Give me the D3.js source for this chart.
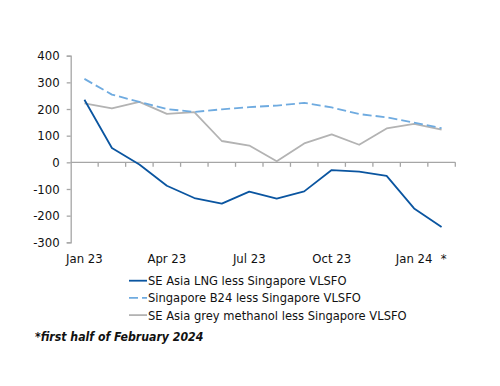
<!DOCTYPE html>
<html><head><meta charset="utf-8">
<script src="https://cdn.jsdelivr.net/npm/d3@7"></script>
<style>body{margin:0;background:#fff}svg{display:block}</style>
</head><body><svg id="c" width="500" height="386"></svg>
<script>
const categories = ["Jan 23","Feb 23","Mar 23","Apr 23","May 23","Jun 23","Jul 23","Aug 23","Sep 23","Oct 23","Nov 23","Dec 23","Jan 24","Feb 24"];
const tickLabels = {"Jan 23":"Jan 23","Apr 23":"Apr 23","Jul 23":"Jul 23","Oct 23":"Oct 23","Jan 24":"Jan 24","Feb 24":"*"};
const lngValues = [235,54,-8,-88,-134,-155,-110,-136,-109,-29,-35,-51,-173,-243];
const b24Values = [313,254,227,200,189,199,207,213,223,206,181,169,149,128];
const methanolValues = [221,202,227,182,188,80,63,4,71,105,66,127,144,123];
const yTicks = [-300,-200,-100,0,100,200,300,400];
const seriesNames = ["SE Asia LNG less Singapore VLSFO","Singapore B24 less Singapore VLSFO","SE Asia grey methanol less Singapore VLSFO"];
const footnote = "*first half of February 2024";

const svg = d3.select("#c");
const font = "'DejaVu Sans Condensed', 'DejaVu Sans', sans-serif";
const x = d3.scaleBand().domain(categories).range([70.7, 455.3]);
const y = d3.scaleLinear().domain([-300, 400]).range([242.3, 55.7]);
const axisColor = "#a6a6a6";

// y axis
const ya = svg.append("g").attr("transform", `translate(${x.range()[0]},0)`)
  .call(d3.axisLeft(y).tickValues(yTicks).tickSize(4).tickPadding(7).tickFormat(d => String(d)));
ya.select(".domain").attr("stroke", axisColor).attr("stroke-width", 1.3);
ya.selectAll(".tick line").attr("stroke", axisColor).attr("stroke-width", 1.3);
ya.selectAll("text").attr("font-family", font).attr("font-size", 13).attr("fill", "#111");

// x axis (zero line with band ticks)
const xg = svg.append("g").attr("transform", `translate(0,${y(0)})`);
xg.append("line").attr("x1", x.range()[0]).attr("x2", x.range()[1]).attr("stroke", axisColor).attr("stroke-width", 1.3);
const bounds = categories.map(c => x(c)).concat([x.range()[1]]);
xg.selectAll("line.t").data(bounds.slice(1)).join("line").attr("class","t")
  .attr("x1", d => d).attr("x2", d => d).attr("y1", 0).attr("y2", 4.5).attr("stroke", axisColor).attr("stroke-width", 1.3);

// x labels
svg.append("g").selectAll("text").data(categories.filter(c => tickLabels[c])).join("text")
  .attr("x", d => x(d) + x.bandwidth()/2 + (d === "Feb 24" ? 2 : 0))
  .attr("y", 262.5)
  .attr("text-anchor", "middle")
  .attr("font-family", font).attr("font-size", 13).attr("fill", "#111")
  .text(d => tickLabels[d]);

const line = d3.line().x((d, i) => x(categories[i]) + x.bandwidth()/2).y(d => y(d));
const styles = [
  {data: methanolValues, color: "#b3b3b3", dash: null},
  {data: b24Values, color: "#6fabe0", dash: "9,4"},
  {data: lngValues, color: "#0a55a0", dash: null}
];
styles.forEach(s => {
  svg.append("path").datum(s.data).attr("d", line).attr("fill", "none")
    .attr("stroke", s.color).attr("stroke-width", 1.8).attr("stroke-dasharray", s.dash)
    .attr("stroke-linejoin", "round");
});

// legend
const legColors = ["#0a55a0", "#6fabe0", "#b3b3b3"];
const legDash = [null, "9,4", null];
const lg = svg.append("g");
seriesNames.forEach((n, i) => {
  const yy = 280.7 + i * 17.2;
  lg.append("line").attr("x1", 129).attr("x2", 147).attr("y1", yy).attr("y2", yy)
    .attr("stroke", legColors[i]).attr("stroke-width", 1.8).attr("stroke-dasharray", legDash[i]);
  lg.append("text").attr("x", 148).attr("y", yy + 4.5).attr("font-family", font)
    .attr("font-size", 12.8).attr("fill", "#111").text(n);
});

svg.append("text").attr("x", 35).attr("y", 341).attr("font-family", font)
  .attr("font-size", 12.2).attr("font-style", "italic").attr("font-weight", "bold").attr("fill", "#111").text(footnote);
</script></body></html>
